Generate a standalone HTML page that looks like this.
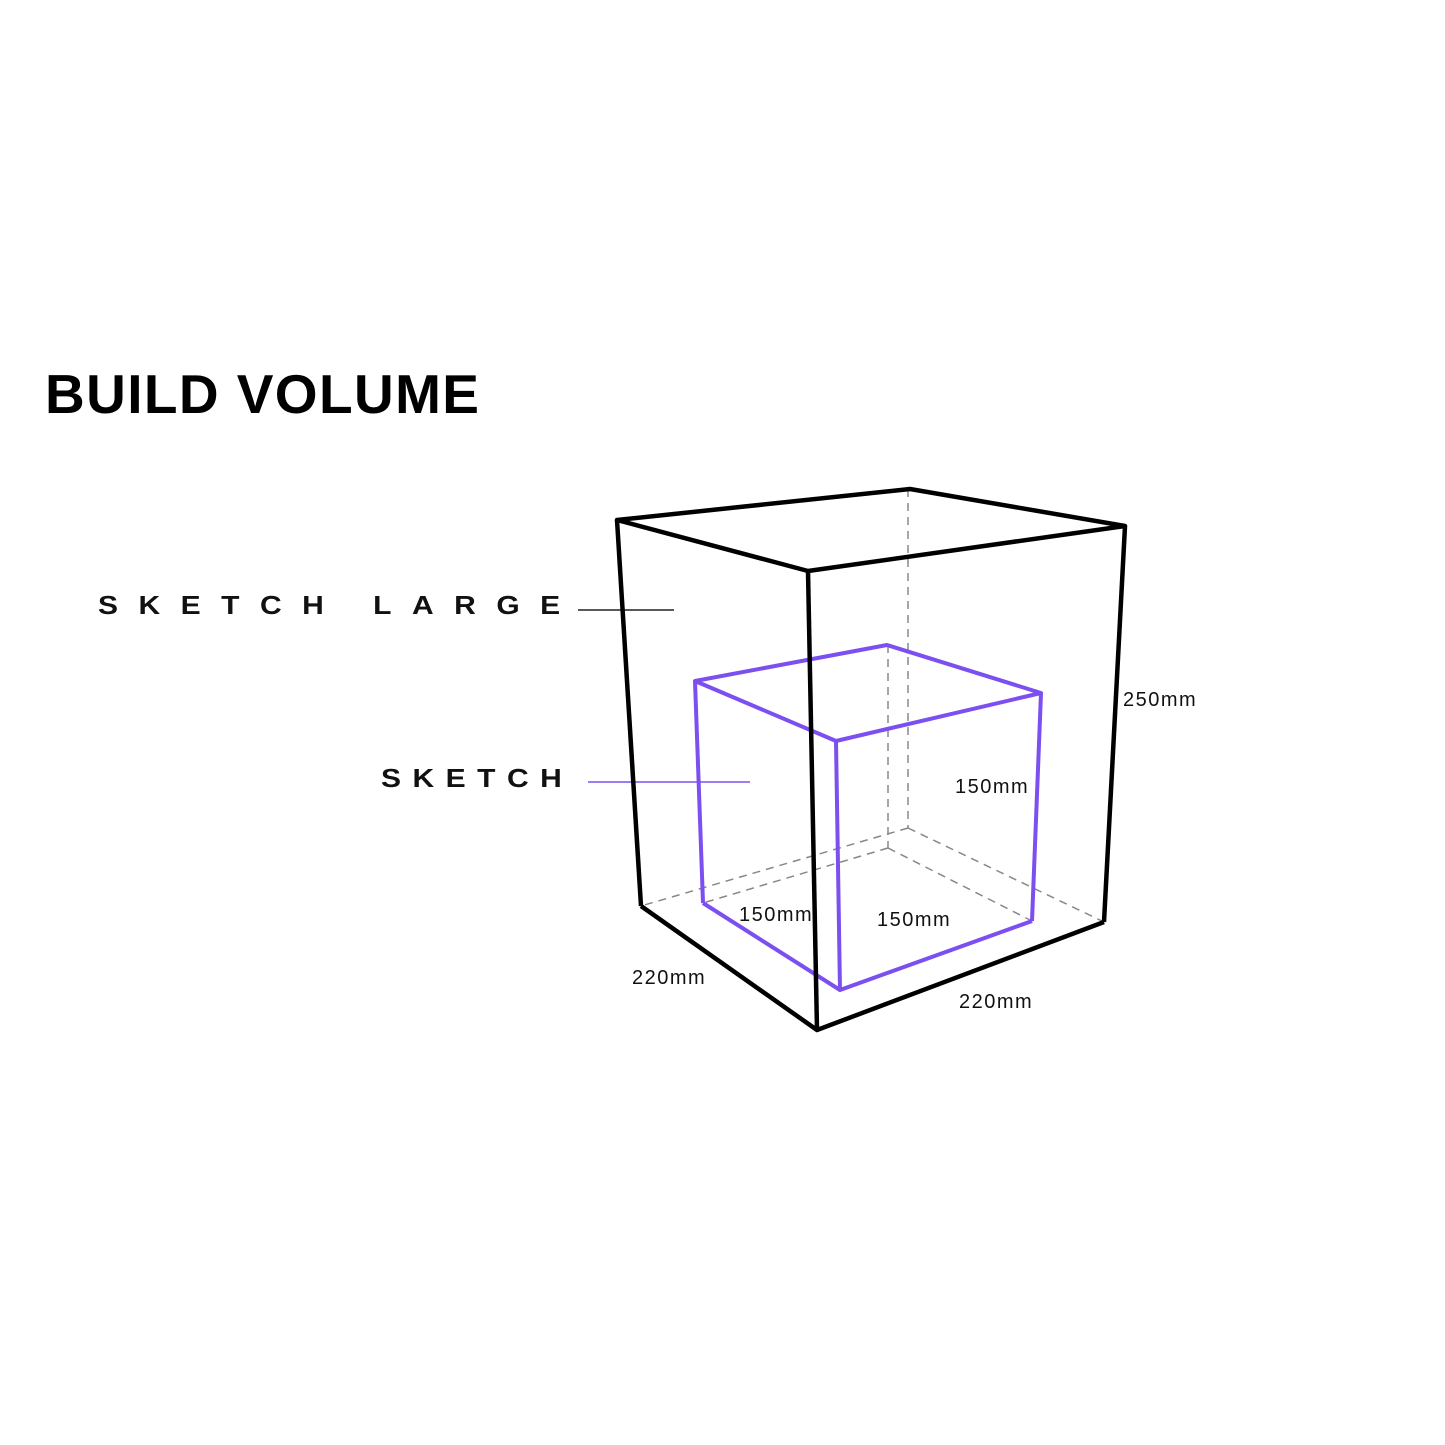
<!DOCTYPE html>
<html><head><style>
html,body{margin:0;padding:0;background:#fff;}
body{width:1445px;height:1445px;position:relative;overflow:hidden;font-family:"Liberation Sans",sans-serif;}
.t{position:absolute;white-space:nowrap;}
</style></head><body>
<div class="t" style="left:45px;top:362px;font-size:55px;font-weight:bold;letter-spacing:1.4px;color:#000;">BUILD VOLUME</div>
<div class="t" style="left:98px;top:592px;font-size:30px;font-weight:bold;letter-spacing:20.5px;color:#111;transform:scaleY(0.85);transform-origin:left top;">SKETCH LARGE</div>
<div class="t" style="left:381px;top:765px;font-size:30px;font-weight:bold;letter-spacing:11.5px;color:#111;transform:scaleY(0.85);transform-origin:left top;">SKETCH</div>
<svg width="1445" height="1445" style="position:absolute;left:0;top:0">
<g stroke="#888" stroke-width="1.5" stroke-dasharray="8,6" fill="none">
<line x1="908" y1="489" x2="908" y2="828"/>
<line x1="908" y1="828" x2="641" y2="906"/>
<line x1="908" y1="828" x2="1104" y2="922"/>
<line x1="888" y1="645" x2="888" y2="848"/>
<line x1="888" y1="848" x2="703" y2="903"/>
<line x1="888" y1="848" x2="1032" y2="921"/>
</g>
<line x1="578" y1="610" x2="674" y2="610" stroke="#222" stroke-width="1.5"/>
<line x1="588" y1="782" x2="750" y2="782" stroke="#7a55ee" stroke-width="1.5"/>
<g stroke="#7b4ff0" stroke-width="4" fill="none" stroke-linejoin="round">
<polygon points="695,681 887,645 1041,693 836,741"/>
<line x1="695" y1="681" x2="703" y2="903"/>
<line x1="836" y1="741" x2="840" y2="990"/>
<line x1="1041" y1="693" x2="1032" y2="921"/>
<polyline points="703,903 840,990 1032,921"/>
</g>
<g stroke="#000" stroke-width="4.5" fill="none" stroke-linejoin="round">
<polygon points="617,520 910,489 1125,526 808,571"/>
<line x1="617" y1="520" x2="641" y2="906"/>
<line x1="808" y1="571" x2="817" y2="1030"/>
<line x1="1125" y1="526" x2="1104" y2="922"/>
<polyline points="641,906 817,1030 1104,922"/>
</g>
<g font-family="Liberation Sans, sans-serif" font-size="20" fill="#111" letter-spacing="1.5">
<text x="1123" y="706">250mm</text>
<text x="955" y="793">150mm</text>
<text x="739" y="921">150mm</text>
<text x="877" y="926">150mm</text>
<text x="632" y="984">220mm</text>
<text x="959" y="1008">220mm</text>
</g>
</svg>
</body></html>
